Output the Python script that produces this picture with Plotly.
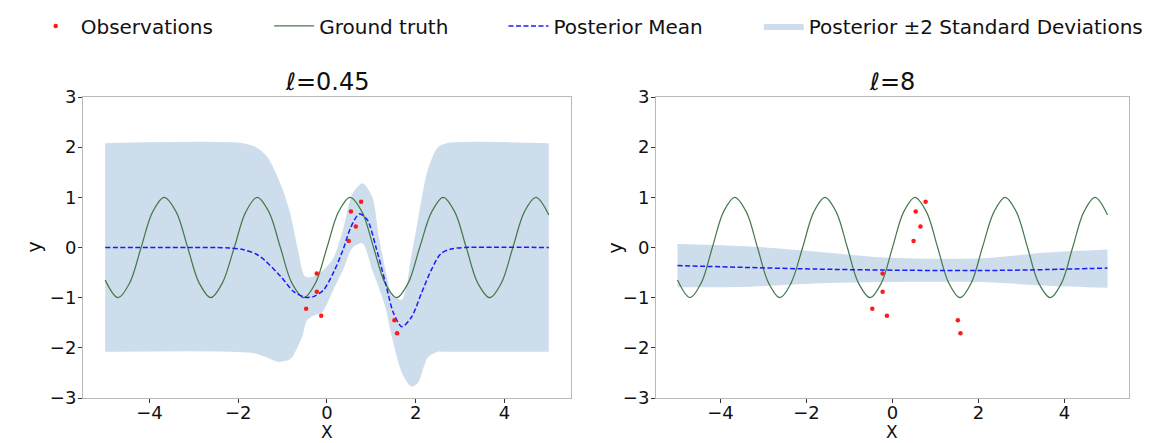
import plotly.graph_objects as go
from plotly.subplots import make_subplots

# ---------------- data ----------------
obs_x = [-0.47, -0.23, -0.23, -0.13, 0.49, 0.54, 0.65, 0.77, 1.52, 1.58]
obs_y = [-1.22, -0.52, -0.88, -1.36, 0.13, 0.72, 0.42, 0.91, -1.45, -1.71]

truth_x = [-5.0, -4.71, -4.45, -4.19, -3.93, -3.67, -3.40, -3.14, -2.88, -2.62,
           -2.36, -2.09, -1.83, -1.57, -1.31, -1.05, -0.79, -0.52, -0.26, 0.0,
           0.26, 0.52, 0.79, 1.05, 1.31, 1.57, 1.83, 2.09, 2.36, 2.62,
           2.88, 3.14, 3.40, 3.67, 3.93, 4.19, 4.45, 4.71, 5.0]
truth_y = [-0.65, -1.0, -0.71, 0.0, 0.71, 1.0, 0.71, 0.0, -0.71, -1.0,
           -0.71, 0.0, 0.71, 1.0, 0.71, 0.0, -0.71, -1.0, -0.71, 0.0,
           0.71, 1.0, 0.71, 0.0, -0.71, -1.0, -0.71, 0.0, 0.71, 1.0,
           0.71, 0.0, -0.71, -1.0, -0.71, 0.0, 0.71, 1.0, 0.65]

# length-scale 0.45 panel
mean1_x = [-5.0, -3.0, -2.5, -2.2, -1.9, -1.6, -1.41, -1.04, -0.75, -0.49, -0.31,
           -0.08, 0.14, 0.36, 0.54, 0.73, 0.91, 1.10, 1.32, 1.50, 1.69, 1.91,
           2.13, 2.35, 2.57, 2.8, 3.1, 5.0]
mean1_y = [0.0, 0.0, 0.0, -0.01, -0.04, -0.13, -0.25, -0.58, -0.88, -0.99, -0.98,
           -0.85, -0.51, -0.05, 0.41, 0.67, 0.55, 0.02, -0.71, -1.31, -1.58, -1.38,
           -0.91, -0.45, -0.12, -0.03, 0.0, 0.0]

upper1_x = [-5.0, -1.9, -1.6, -1.34, -1.04, -0.82, -0.67, -0.49, -0.31, -0.08,
            0.14, 0.36, 0.58, 0.80, 1.02, 1.17, 1.32, 1.46, 1.69, 1.91, 2.05,
            2.27, 2.50, 2.7, 5.0]
upper1_y = [2.08, 2.08, 2.0, 1.8, 1.25, 0.65, 0.02, -0.58, -0.58, -0.45,
            -0.22, 0.35, 1.08, 1.28, 1.01, 0.21, -0.45, -0.91, -1.04, -0.12, 0.55,
            1.54, 2.0, 2.08, 2.08]

lower1_x = [-5.0, -1.7, -1.4, -1.09, -0.82, -0.67, -0.55, -0.45, -0.31, -0.12,
            0.14, 0.36, 0.58, 0.80, 1.02, 1.17, 1.32, 1.46, 1.69, 1.90, 2.05,
            2.27, 2.50, 2.7, 5.0]
lower1_y = [-2.08, -2.10, -2.18, -2.28, -2.22, -2.00, -1.75, -1.45, -1.36, -1.30,
            -0.85, -0.45, 0.0, 0.08, -0.45, -0.80, -1.20, -1.77, -2.50, -2.77, -2.70,
            -2.20, -2.08, -2.08, -2.08]

# length-scale 8 panel
mean2_x = [-5.0, -3.3, -1.8, -0.2, 2.0, 3.6, 5.0]
mean2_y = [-0.36, -0.40, -0.43, -0.45, -0.46, -0.44, -0.41]
upper2_y = [0.07, 0.02, -0.08, -0.20, -0.22, -0.10, -0.04]
lower2_y = [-0.79, -0.78, -0.72, -0.69, -0.69, -0.76, -0.80]

titles = ["\u2113=0.45", "\u2113=8"]
x_ticks = [-4, -2, 0, 2, 4]
y_ticks = [-3, -2, -1, 0, 1, 2, 3]

# ---------------- styles ----------------
BAND = "rgba(70,130,180,0.27)"
TRUTH = "#44784a"
MEAN = "#1a1aff"
OBS = "#ff1a1a"
FONT = "DejaVu Sans"
TXT = "#111111"

fig = make_subplots(rows=1, cols=2)

panels = [
    (mean1_x, mean1_y, upper1_x, upper1_y, lower1_x, lower1_y),
    (mean2_x, mean2_y, mean2_x, upper2_y, mean2_x, lower2_y),
]

for i, (mx, my, ux, uy, lx, ly) in enumerate(panels):
    col = i + 1
    first = i == 0
    fig.add_trace(go.Scatter(x=lx, y=ly, mode="lines",
                             line=dict(width=0, shape="spline", smoothing=0.8),
                             showlegend=False, hoverinfo="skip"), row=1, col=col)
    fig.add_trace(go.Scatter(x=ux, y=uy, mode="lines", fill="tonexty", fillcolor=BAND,
                             line=dict(width=0, shape="spline", smoothing=0.8),
                             name="Posterior \u00b12 Standard Deviations", legend="legend4",
                             showlegend=first), row=1, col=col)
    fig.add_trace(go.Scatter(x=truth_x, y=truth_y, mode="lines",
                             line=dict(color=TRUTH, width=1.2, shape="spline", smoothing=1.0),
                             name="Ground truth", legend="legend2", showlegend=first), row=1, col=col)
    fig.add_trace(go.Scatter(x=mx, y=my, mode="lines",
                             line=dict(color=MEAN, width=1.5, dash="5px,2.5px",
                                       shape="spline", smoothing=0.8),
                             name="Posterior Mean", legend="legend3", showlegend=first), row=1, col=col)
    fig.add_trace(go.Scatter(x=obs_x, y=obs_y, mode="markers",
                             marker=dict(color=OBS, size=4.5),
                             name="Observations", legend="legend", showlegend=first), row=1, col=col)

for i in range(2):
    col = i + 1
    fig.update_xaxes(range=[-5.5, 5.5], tickvals=x_ticks, ticks="outside", ticklen=4,
                     tickcolor="#333", showline=True, linecolor="#b8b8b8", linewidth=1,
                     mirror=True, showgrid=False, zeroline=False, automargin=False,
                     ticklabelstandoff=-6,
                     tickfont=dict(size=18, color=TXT), row=1, col=col)
    fig.update_yaxes(range=[-3, 3], tickvals=y_ticks, ticks="outside", ticklen=4,
                     tickcolor="#333", showline=True, linecolor="#b8b8b8", linewidth=1,
                     mirror=True, showgrid=False, zeroline=False, automargin=False,
                     ticklabelstandoff=-2,
                     tickfont=dict(size=18, color=TXT), row=1, col=col)

fig.update_xaxes(domain=[0.0, 0.4665], row=1, col=1)
fig.update_xaxes(domain=[0.5478, 1.0], row=1, col=2)

centers = [0.2333, 0.7739]
ylabel_x = [-0.0478, 0.5086]
for i, t in enumerate(titles):
    fig.add_annotation(text=t, xref="paper", yref="paper", x=centers[i], y=1.0, yshift=15,
                       showarrow=False, xanchor="center", yanchor="middle",
                       font=dict(size=24, color=TXT, family=FONT))
    fig.add_annotation(text="X", xref="paper", yref="paper", x=centers[i], y=0.0, yshift=-34,
                       showarrow=False, xanchor="center", yanchor="middle",
                       font=dict(size=17, color=TXT, family=FONT))
    fig.add_annotation(text="y", xref="paper", yref="paper", x=ylabel_x[i], y=0.5,
                       showarrow=False, textangle=-90, xanchor="center", yanchor="middle",
                       font=dict(size=19, color=TXT, family=FONT))

leg_common = dict(orientation="h", xanchor="left", yref="paper", y=1.236, yanchor="middle",
                  font=dict(size=20, family=FONT, color=TXT), itemwidth=40,
                  bgcolor="rgba(0,0,0,0)")
leg_x = [-0.050, 0.178, 0.402, 0.646]

fig.update_layout(
    width=1167, height=443,
    margin=dict(l=83, r=38, t=97, b=45, autoexpand=False),
    paper_bgcolor="white", plot_bgcolor="white",
    font=dict(family=FONT, color=TXT),
    legend=dict(x=leg_x[0], **leg_common),
    legend2=dict(x=leg_x[1], **leg_common),
    legend3=dict(x=leg_x[2], **leg_common),
    legend4=dict(x=leg_x[3], **leg_common),
)

fig.write_html("out.html", config={"displayModeBar": False},
               post_script="document.body.style.margin='0';")
